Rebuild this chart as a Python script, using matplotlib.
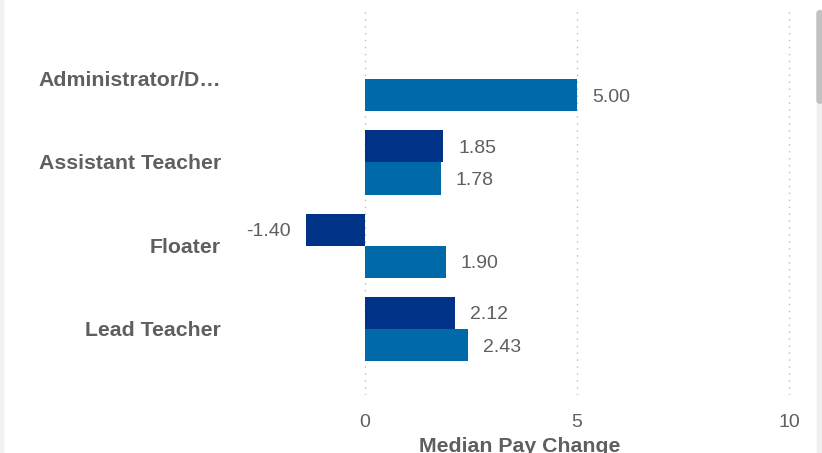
"""Median pay change by role, horizontal grouped bars."""

import matplotlib.pyplot as plt
import numpy as np
from matplotlib.patches import FancyBboxPatch, Rectangle

plt.rcParams["font.family"] = ["Liberation Sans", "DejaVu Sans"]

ROLES = ["Administrator/D…", "Assistant Teacher", "Floater", "Lead Teacher"]
SERIES_TOP = [np.nan, 1.85, -1.40, 2.12]
SERIES_BOTTOM = [5.00, 1.78, 1.90, 2.43]
X_TICKS = [0, 5, 10]

DARK = "#003288"
LIGHT = "#0069a7"
TEXT = "#5f5f5f"

W, H = 822, 453
fig = plt.figure(figsize=(W / 100, H / 100), dpi=100)
ax = fig.add_axes([240 / W, 1 - 395 / H, 560 / W, 385 / H])

y = np.arange(len(ROLES))
height = 0.385
ax.barh(y - height / 2, SERIES_TOP, height=height, color=DARK, zorder=2)
ax.barh(y + height / 2, SERIES_BOTTOM, height=height, color=LIGHT, zorder=2)

for offset, values in ((-height / 2, SERIES_TOP), (height / 2, SERIES_BOTTOM)):
    for yi, v in zip(y, values):
        if np.isnan(v):
            continue
        pad = 0.36 if v >= 0 else -0.36
        ax.text(v + pad, yi + offset + 0.022, f"{v:.2f}", ha="left" if v >= 0 else "right",
                va="center", fontsize=14, color=TEXT)

ax.set_xlim(-2.95, 10.26)
ax.set_ylim(3.79, -0.83)
ax.set_xticks(X_TICKS)
ax.set_xticklabels([str(t) for t in X_TICKS], fontsize=14, color=TEXT)
ax.tick_params(axis="x", length=0, pad=14)
ax.set_yticks([])
ax.grid(axis="x", linestyle=(0, (1, 4)), color="#bdbdbd", linewidth=1, zorder=0)
for spine in ax.spines.values():
    spine.set_visible(False)
ax.set_xlabel("Median Pay Change", fontsize=15.3, fontweight="bold", color=TEXT,
              labelpad=4)

# category labels right-aligned at a fixed pixel column
for yi, role in zip(y, ROLES):
    _, py = ax.transData.transform((0, yi))
    fig.text(221 / W, (py - 1.5) / H, role, ha="right", va="center", fontsize=15.3,
             fontweight="bold", color=TEXT)

# window chrome: left edge strip and scrollbar
fig.patches.append(Rectangle((0, 0), 3 / W, 1, transform=fig.transFigure,
                             color="#f2f2f2", zorder=0))
fig.patches.append(Rectangle((817 / W, 0), 5 / W, 1 - 10 / H, transform=fig.transFigure,
                             color="#f0f0f0", zorder=0))
fig.patches.append(FancyBboxPatch((817 / W, 1 - 103 / H), 6 / W, 92 / H,
                                  boxstyle="round,pad=0,rounding_size=0.005",
                                  transform=fig.transFigure, color="#c1c1c1", zorder=1))

fig.savefig("out.png", dpi=100)
